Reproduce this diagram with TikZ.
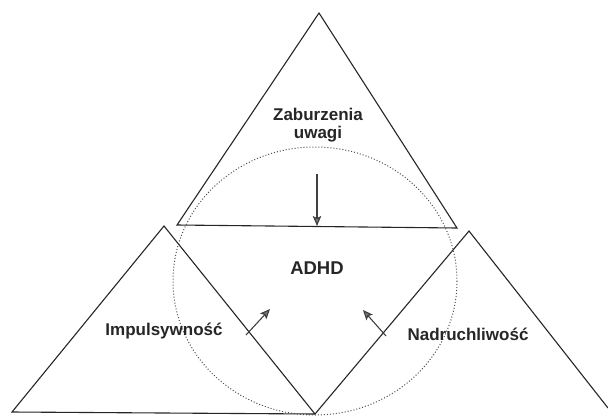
\documentclass[tikz,border=0pt]{standalone}
\usepackage{fontspec}
\setmainfont{Liberation Sans}
\usetikzlibrary{arrows.meta}
\begin{document}
\begin{tikzpicture}[x=1pt,y=-1pt,
  edge/.style={draw=black!85,line width=1.1pt,line join=miter},
  lbl/.style={font=\fontsize{17}{19}\selectfont\bfseries,text=black!85,inner sep=0pt},
  infl/.style={draw=black!75,line width=1.1pt,-{Stealth[length=10pt,width=8.5pt,inset=2pt,fill=black!55]}},
  ring/.style={draw=black!70,line width=1pt,dotted}]
\useasboundingbox (0,0) rectangle (608,416);
% vertices
\coordinate (tA) at (319,13);
\coordinate (tL) at (177,225);
\coordinate (tR) at (457,228);
\coordinate (lA) at (164,226);
\coordinate (lL) at (12,412);
\coordinate (bV) at (315,414);
\coordinate (rA) at (469,231);
\coordinate (rR) at (608,408);
% triangles
\draw[edge] (tL) -- (tA) -- (tR) -- cycle;
\draw[edge] (bV) -- (lL) -- (lA) -- (bV) -- (rA) -- (rR);
% dotted ring
\draw[ring] (315,281) ellipse [x radius=142, y radius=134];
% labels
\node[lbl,align=center] (zab) at (318,125) {Zaburzenia\\[-1pt]uwagi};
\node[lbl,font=\fontsize{18.5}{20}\selectfont\bfseries] (adhd) at (317,268) {ADHD};
\node[lbl] (imp) at (164,331) {Impulsywność};
\node[lbl] (nad) at (468,334) {Nadruchliwość};
% arrows
\coordinate (a1s) at (317,174);
\coordinate (a1e) at (317,226);
\coordinate (a2s) at (246,335);
\coordinate (a2e) at (270,309);
\coordinate (a3s) at (386,336);
\coordinate (a3e) at (363,310);
\draw[infl] (a1s) -- (a1e);
\draw[infl] (a2s) -- (a2e);
\draw[infl] (a3s) -- (a3e);
\end{tikzpicture}
\end{document}
